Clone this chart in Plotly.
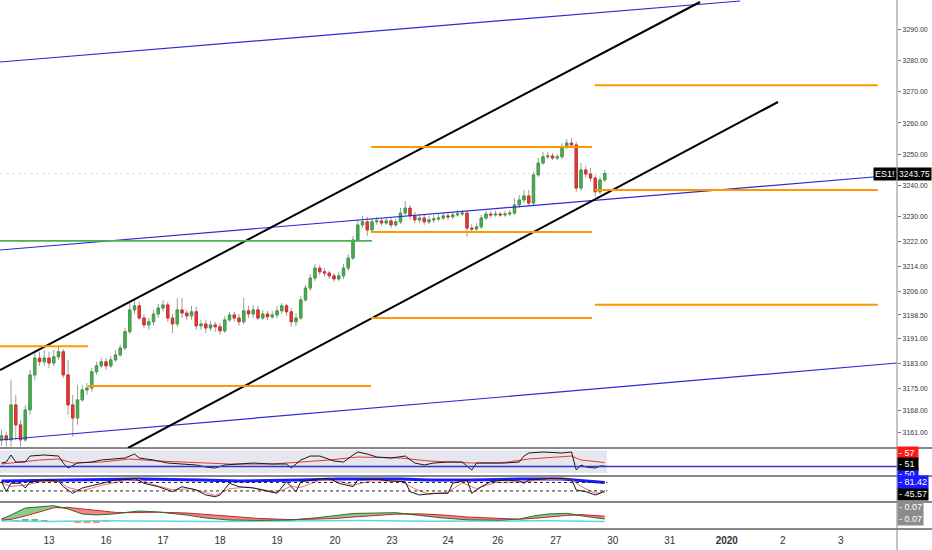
import plotly.graph_objects as go

# ---------------- data ----------------
first_open = 3158.5
closes = [3159.8, 3158.5, 3169.7, 3163.3, 3158.5, 3168.1, 3179.3, 3184.7, 3183.5, 3184.7,
          3183.1, 3185.1, 3186.7, 3179.3, 3169.7, 3165.5, 3171.3, 3174.5, 3175.1, 3180.3,
          3182.2, 3183.5, 3182.2, 3184.1, 3185.7, 3187.9, 3193.1, 3200.1, 3201.4, 3197.5,
          3195.3, 3196.3, 3198.8, 3200.7, 3201.7, 3197.5, 3195.6, 3200.1, 3199.1, 3198.2,
          3199.5, 3195.0, 3195.6, 3194.3, 3195.3, 3194.7, 3193.4, 3196.9, 3198.5, 3197.5,
          3196.3, 3199.8, 3198.8, 3200.1, 3197.5, 3198.8, 3197.9, 3198.5, 3199.8, 3201.4,
          3199.5, 3196.3, 3197.5, 3203.3, 3207.1, 3210.3, 3213.5, 3212.3, 3211.9, 3211.0,
          3210.0, 3211.0, 3213.5, 3216.7, 3222.5, 3227.3, 3228.3, 3225.7, 3228.3, 3228.6,
          3227.9, 3228.6, 3227.3, 3228.3, 3231.1, 3232.7, 3230.2, 3228.9, 3229.5, 3228.3,
          3228.9, 3229.2, 3229.5, 3230.2, 3229.9, 3230.5, 3230.8, 3231.1, 3226.3, 3226.0,
          3226.7, 3229.5, 3230.8, 3230.5, 3230.8, 3230.5, 3230.8, 3231.1, 3233.7, 3235.3,
          3236.6, 3234.3, 3243.3, 3247.1, 3249.1, 3249.4, 3248.7, 3249.1, 3252.3, 3253.5,
          3252.9, 3239.1, 3244.9, 3243.6, 3242.3, 3237.9, 3241.7, 3243.75]
highs = [3161.7, 3161.1, 3177.7, 3172.9, 3164.9, 3169.7, 3180.9, 3186.7, 3186.7, 3187.3,
         3186.7, 3187.3, 3188.3, 3187.6, 3184.1, 3172.9, 3176.1, 3176.1, 3176.7, 3181.5,
         3183.5, 3184.7, 3184.7, 3185.4, 3187.3, 3188.9, 3194.3, 3202.3, 3203.3, 3202.7,
         3198.8, 3197.5, 3200.1, 3202.0, 3203.3, 3202.7, 3198.8, 3203.9, 3203.9, 3200.1,
         3201.4, 3201.1, 3196.9, 3196.9, 3196.6, 3196.3, 3195.9, 3198.2, 3199.5, 3199.5,
         3198.8, 3203.9, 3201.4, 3201.7, 3201.4, 3200.1, 3199.8, 3199.8, 3201.4, 3202.3,
         3202.0, 3200.7, 3199.1, 3204.6, 3208.1, 3211.6, 3214.8, 3214.5, 3213.5, 3212.6,
         3211.9, 3212.3, 3214.8, 3218.0, 3223.8, 3228.9, 3230.2, 3229.9, 3229.5, 3229.9,
         3229.5, 3229.5, 3229.5, 3229.2, 3232.7, 3235.0, 3233.7, 3231.5, 3230.8, 3230.5,
         3230.2, 3230.5, 3230.8, 3231.5, 3231.1, 3231.5, 3232.1, 3232.1, 3231.8, 3227.6,
         3227.9, 3230.5, 3231.8, 3231.8, 3231.8, 3231.5, 3231.8, 3232.1, 3235.9, 3236.9,
         3238.5, 3238.5, 3244.3, 3248.7, 3250.7, 3250.7, 3250.3, 3250.0, 3253.5, 3254.8,
         3255.1, 3253.9, 3247.1, 3246.2, 3245.5, 3243.3, 3242.7, 3244.9]
lows = [3156.6, 3156.3, 3156.3, 3158.5, 3156.3, 3157.9, 3166.5, 3177.7, 3182.2, 3182.2,
        3181.5, 3182.2, 3184.1, 3178.3, 3166.5, 3159.5, 3163.3, 3170.7, 3172.9, 3173.9,
        3179.3, 3181.5, 3180.9, 3181.5, 3183.5, 3185.1, 3187.3, 3192.4, 3198.8, 3196.9,
        3194.3, 3193.7, 3195.0, 3197.5, 3199.5, 3196.3, 3192.7, 3194.7, 3197.5, 3196.9,
        3196.9, 3193.7, 3193.7, 3192.7, 3193.4, 3193.1, 3192.1, 3192.7, 3196.3, 3196.3,
        3195.0, 3195.6, 3197.5, 3197.5, 3196.9, 3196.9, 3196.9, 3197.2, 3197.5, 3198.8,
        3198.2, 3194.7, 3195.0, 3196.9, 3202.7, 3206.2, 3209.4, 3211.3, 3210.7, 3210.0,
        3209.1, 3209.4, 3210.0, 3212.6, 3216.1, 3221.9, 3226.3, 3223.8, 3224.7, 3227.3,
        3227.0, 3227.3, 3226.3, 3226.7, 3227.6, 3230.5, 3228.9, 3227.9, 3227.9, 3227.3,
        3227.6, 3227.9, 3228.6, 3228.9, 3228.9, 3229.2, 3229.9, 3230.2, 3223.5, 3224.7,
        3225.4, 3226.0, 3228.9, 3229.5, 3229.9, 3229.9, 3229.9, 3230.2, 3230.5, 3232.7,
        3234.3, 3233.4, 3233.7, 3242.7, 3246.5, 3248.4, 3248.1, 3248.1, 3248.4, 3251.6,
        3251.9, 3237.9, 3238.2, 3242.3, 3241.1, 3236.3, 3237.2, 3241.1]

date_tick_pos = [10, 22, 34, 46, 58, 70.2, 82.2, 94, 104.5, 116.7, 128.7, 140.7, 152.7, 164.5, 176.7]
date_tick_text = ["13", "16", "17", "18", "19", "20", "23", "24", "26", "27", "30", "31",
                  "<b>2020</b>", "2", "3"]
price_ticks = [3290, 3280, 3270, 3260, 3250, 3240, 3230, 3222, 3214, 3206, 3198.5,
               3191, 3183, 3175, 3168, 3161]

# drawn trend lines (bar index, price)
blue_top_x, blue_top_y = [-0.32, 155.5], [3279.45, 3298.98]
black_upper_x, black_upper_y = [-0.32, 147.05], [3180.86, 3298.66]
black_lower_x, black_lower_y = [26.63, 163.47], [3155.90, 3266.65]
blue_mid_x, blue_mid_y = [-0.32, 188.53], [3219.28, 3243.28]
blue_low_x, blue_low_y = [-0.32, 188.53], [3158.46, 3183.10]
green_level, green_x = 3222.2, [-0.32, 78.0]
orange_levels = [3188.5, 3175.75, 3252.25, 3225.0, 3197.5, 3272.0, 3238.5, 3201.75]
orange_starts = [-0.32, 18.2, 77.8, 77.8, 77.8, 124.9, 124.9, 124.9]
orange_ends = [18.2, 77.8, 124.3, 124.3, 124.3, 184.5, 184.5, 184.5]

# pane A (RSI)
rsi_x = [0, 1, 2, 3, 5, 6, 9, 12, 13, 14, 16, 19, 21, 24, 26, 28, 29, 32, 35, 38, 41, 43, 45, 47,
         50, 53, 57, 60, 61, 63, 65, 67, 70, 72, 74, 75, 77, 79, 82, 85, 87, 89, 91, 94, 97, 99,
         100, 103, 106, 109, 110, 111, 114, 118, 120, 121, 122, 123, 125, 126, 127]
rsi_v = [56.5, 58.3, 71.3, 58.3, 58.3, 69.4, 71.3, 69.4, 56.5, 47.2, 56.5, 58.3, 62.0, 63.9,
         65.7, 73.1, 65.7, 62.0, 56.5, 54.6, 52.8, 49.1, 47.2, 52.8, 54.6, 56.5, 54.6, 54.6,
         47.2, 62.0, 69.4, 69.4, 60.2, 58.3, 71.3, 76.9, 73.1, 67.6, 65.7, 69.4, 56.5, 52.8,
         56.5, 58.3, 58.3, 43.5, 56.5, 56.5, 56.5, 58.3, 69.4, 75.0, 76.9, 75.0, 76.9, 43.5,
         52.8, 49.1, 47.2, 50.9, 51.0]
rsi_ma_x = [0, 4, 8, 12, 15, 21, 27, 33, 42, 48, 57, 63, 69, 75, 84, 90, 99, 105, 111, 120, 122, 126, 127]
rsi_ma_v = [54.6, 58.3, 62.0, 63.9, 56.5, 58.3, 63.9, 60.2, 56.5, 54.6, 54.6, 58.3, 62.0, 67.6,
            65.7, 60.2, 56.5, 56.5, 63.9, 69.4, 62.0, 58.3, 57.0]
rsi_band = [38, 80]
rsi_mid = 50

# pane B (stochastic)
stoch_k_x = [0, 1, 2, 4, 5, 6, 9, 12, 13, 15, 17, 21, 24, 27, 28, 30, 33, 36, 38, 41, 43, 45, 46,
             48, 50, 53, 55, 58, 60, 62, 63, 66, 69, 71, 74, 75, 79, 82, 85, 86, 88, 91, 94, 95,
             98, 99, 101, 103, 106, 109, 110, 111, 116, 120, 121, 123, 125, 126, 127]
stoch_k_v = [85.3, 41.7, 78.4, 78.4, 57.8, 85.3, 92.8, 88.4, 63.5, 34.7, 57.8, 78.4, 92.8, 95.8,
             100, 78.4, 63.5, 41.7, 63.5, 49.1, 27.3, 19.9, 27.3, 78.4, 63.5, 57.8, 49.1, 34.7,
             85.3, 41.7, 85.3, 95.8, 100, 78.4, 63.5, 92.8, 95.8, 88.4, 85.3, 41.7, 27.3, 34.7,
             34.7, 78.4, 92.8, 34.7, 63.5, 85.3, 92.8, 88.4, 78.4, 92.8, 100, 95.8, 49.1, 41.7,
             27.3, 34.7, 45.57]
stoch_d_x = [0, 2, 5, 8, 12, 14, 17, 21, 26, 29, 32, 36, 40, 45, 48, 52, 58, 61, 63, 67, 71, 74,
             78, 84, 87, 90, 94, 97, 100, 104, 110, 116, 120, 122, 125, 127]
stoch_d_v = [80, 65, 70, 85, 88, 60, 45, 70, 90, 95, 72, 50, 55, 25, 55, 62, 40, 65, 60, 92, 88,
             70, 90, 87, 55, 30, 40, 80, 55, 82, 85, 96, 95, 65, 35, 38]
stoch_blue_x = [0, 12, 21, 29, 42, 50, 63, 71, 84, 90, 99, 109, 118, 124, 127]
stoch_blue_v = [88.4, 92.8, 95.0, 97.1, 92.8, 88.4, 92.8, 97.1, 97.1, 92.8, 92.8, 97.1, 97.1, 88.4, 81.42]
stoch_levels = [82, 45]

# pane C (oscillator ribbon)
macd_x = [0, 2, 5, 8, 11, 14, 17, 20, 24, 27, 29, 33, 39, 43, 48, 54, 61, 66, 70, 74, 79, 83,
          88, 93, 98, 105, 109, 112, 115, 119, 122, 125, 127]
macd_fast = [0.010, 0.030, 0.065, 0.070, 0.0765, 0.060, 0.035, 0.030, 0.036, 0.045, 0.050,
             0.045, 0.030, 0.015, 0.005, 0.003, 0.005, 0.015, 0.025, 0.0375, 0.040, 0.0415,
             0.028, 0.015, 0.006, 0.004, 0.010, 0.025, 0.035, 0.0385, 0.026, 0.015, 0.010]
macd_slow = [0.005, 0.008, 0.025, 0.045, 0.066, 0.068, 0.060, 0.050, 0.043, 0.042, 0.043,
             0.044, 0.040, 0.033, 0.022, 0.013, 0.007, 0.008, 0.012, 0.020, 0.028, 0.034,
             0.036, 0.030, 0.020, 0.011, 0.009, 0.013, 0.020, 0.028, 0.032, 0.028, 0.024]
cyan_x = [0, 10, 20, 30, 45, 60, 75, 90, 105, 115, 127]
cyan_v = [0.000, -0.002, 0.001, -0.001, -0.002, 0.000, 0.002, -0.001, 0.000, 0.001, -0.002]
hist_x = [3, 5, 7, 9, 14, 16, 18, 20, 22, 67, 70, 73, 89, 92, 95, 110, 113, 122, 124, 126]
hist_v = [0.004, 0.007, 0.008, 0.005, -0.005, -0.008, -0.009, -0.006, -0.003, 0.003, 0.004,
          0.003, -0.003, -0.004, -0.003, 0.003, 0.004, -0.003, -0.005, -0.004]

# ---------------- figure ----------------
W, H = 932, 550
ML, MR, MT, MB = 0, 35, 0, 21
PH = H - MT - MB


def py(px):
    return (PH - (px - MT)) / PH


bars = list(range(len(closes)))
opens = [first_open] + closes[:-1]
body_hi = [max(o, c) for o, c in zip(opens, closes)]
body_lo = [min(o, c) for o, c in zip(opens, closes)]
x_range = [-0.32, 188.53]
last_bar = bars[-1] + 0.5

fig = go.Figure()

# candles: wicks then bodies
fig.add_trace(go.Candlestick(
    x=bars, open=opens, high=highs, low=lows, close=closes,
    increasing=dict(line=dict(color="#9e9e9e", width=1), fillcolor="#9e9e9e"),
    decreasing=dict(line=dict(color="#9e9e9e", width=1), fillcolor="#9e9e9e"),
    whiskerwidth=0, hoverinfo="skip", showlegend=False))
fig.add_trace(go.Candlestick(
    x=bars, open=opens, high=body_hi, low=body_lo, close=closes,
    increasing=dict(line=dict(color="#3e9e45", width=1), fillcolor="#4caf50"),
    decreasing=dict(line=dict(color="#d32f2f", width=1), fillcolor="#e53935"),
    whiskerwidth=0, hoverinfo="skip", showlegend=False))


def line(x, y, color, width, yaxis="y", dash=None):
    fig.add_trace(go.Scatter(x=x, y=y, mode="lines", yaxis=yaxis, hoverinfo="skip",
                             line=dict(color=color, width=width, dash=dash), showlegend=False))


line(blue_top_x, blue_top_y, "#2b2bd9", 1.2)
line(blue_mid_x, blue_mid_y, "#2b2bd9", 1.2)
line(blue_low_x, blue_low_y, "#2b2bd9", 1.2)
line(black_upper_x, black_upper_y, "#000000", 2)
line(black_lower_x, black_lower_y, "#000000", 2)
line(green_x, [green_level, green_level], "#4caf50", 1.6)
for lv, s, e in zip(orange_levels, orange_starts, orange_ends):
    line([s, e], [lv, lv], "#ff9800", 2)

# pane A
line(rsi_ma_x, rsi_ma_v, "#e53935", 1, "y2")
line(rsi_x, rsi_v, "#1a1a1a", 1, "y2")

# pane B
line(stoch_blue_x, stoch_blue_v, "#1a1aff", 3, "y3")
line(stoch_d_x, stoch_d_v, "#e57373", 1, "y3")
line(stoch_k_x, stoch_k_v, "#1a1a1a", 1, "y3")

# pane C
up = [max(a, b) for a, b in zip(macd_fast, macd_slow)]
dn = [min(a, b) for a, b in zip(macd_fast, macd_slow)]
fig.add_trace(go.Scatter(x=macd_x, y=macd_slow, yaxis="y4", mode="lines", line=dict(width=0),
                         hoverinfo="skip", showlegend=False))
fig.add_trace(go.Scatter(x=macd_x, y=up, yaxis="y4", mode="lines", line=dict(width=0),
                         fill="tonexty", fillcolor="rgba(76,175,80,0.65)", hoverinfo="skip",
                         showlegend=False))
fig.add_trace(go.Scatter(x=macd_x, y=macd_slow, yaxis="y4", mode="lines", line=dict(width=0),
                         hoverinfo="skip", showlegend=False))
fig.add_trace(go.Scatter(x=macd_x, y=dn, yaxis="y4", mode="lines", line=dict(width=0),
                         fill="tonexty", fillcolor="rgba(229,57,53,0.6)", hoverinfo="skip",
                         showlegend=False))
fig.add_trace(go.Bar(x=hist_x, y=hist_v, yaxis="y4", hoverinfo="skip", showlegend=False,
                     marker=dict(color=["#66bb6a" if v > 0 else "#ff8a50" for v in hist_v],
                                 line=dict(width=0))))
line(cyan_x, cyan_v, "#5ad8e6", 1.5, "y4")
line(macd_x, macd_slow, "#c62828", 1, "y4")
line(macd_x, macd_fast, "#2e6b30", 1, "y4")

shapes = []
# RSI band and mid line
shapes.append(dict(type="rect", xref="x", yref="y2", x0=x_range[0], x1=last_bar,
                   y0=rsi_band[0], y1=rsi_band[1], fillcolor="#e6e6ee", line=dict(width=0),
                   layer="below"))
shapes.append(dict(type="line", xref="paper", yref="y2", x0=0, x1=1, y0=rsi_mid, y1=rsi_mid,
                   line=dict(color="#3333cc", width=1.5)))
for lv in stoch_levels:
    shapes.append(dict(type="line", xref="x", yref="y3", x0=x_range[0], x1=last_bar, y0=lv, y1=lv,
                       line=dict(color="#222222", width=1, dash="dot")))
# last price line
shapes.append(dict(type="line", xref="paper", yref="y", x0=0, x1=1, y0=closes[-1], y1=closes[-1],
                   line=dict(color="#e2e2e2", width=1, dash="dot"), layer="below"))
# pane separators
for px in [448, 476, 502, 529]:
    shapes.append(dict(type="line", xref="paper", yref="paper", x0=0, x1=W / (W - MR),
                       y0=py(px), y1=py(px), line=dict(color="#111111", width=1)))
# right axis line
shapes.append(dict(type="line", xref="paper", yref="paper", x0=1, x1=1, y0=py(H), y1=1,
                   line=dict(color="#8a8a8a", width=1)))

lab_font = "Liberation Sans Narrow, Arial Narrow, Liberation Sans, sans-serif"
ann = []


def label(text, y, yref, bg, xanchor="left", fc="white", size=9):
    ann.append(dict(text=text, x=1, xref="paper", y=y, yref=yref, xanchor=xanchor,
                    yanchor="middle", showarrow=False, bgcolor=bg, borderpad=1,
                    font=dict(family=lab_font, size=size, color=fc)))


label("ES1!", closes[-1], "y", "#000000", xanchor="right")
label(f"{closes[-1]:.2f}", closes[-1], "y", "#000000", size=8.5)
label("- 50 ", py(474), "paper", "#1a1aff")
label("- 57 ", py(453), "paper", "#ff1a1a")
label("- 51 ", py(464), "paper", "#000000")
label("- 45.57", py(494), "paper", "#000000")
label("- 81.42", py(482), "paper", "#1a1aff")
label("- 0.07", py(507), "paper", "#8c8c8c")
label("- 0.07", py(519), "paper", "#8c8c8c")

fig.update_layout(
    width=W, height=H, margin=dict(l=ML, r=MR, t=MT, b=MB, autoexpand=False),
    paper_bgcolor="white", plot_bgcolor="white", showlegend=False,
    shapes=shapes, annotations=ann, bargap=0.3,
    xaxis=dict(range=x_range, anchor="y4", rangeslider=dict(visible=False), showgrid=False,
               zeroline=False, showline=False, tickmode="array", tickvals=date_tick_pos,
               ticktext=date_tick_text, ticks="", ticklen=0, ticklabelstandoff=4,
               tickfont=dict(family="Liberation Sans, Arial, sans-serif", size=10, color="#333333")),
    yaxis=dict(domain=[py(448), 1], range=[3155.9, 3299.3], side="right", anchor="x",
               showgrid=False, zeroline=False, showline=False, tickmode="array",
               tickvals=price_ticks, ticktext=[f"{v:.2f}" for v in price_ticks],
               ticks="outside", ticklen=3, tickcolor="#777777",
               tickfont=dict(family=lab_font, size=8, color="#333333")),
    yaxis2=dict(domain=[py(476), py(448)], range=[32.4, 84.3], anchor="x", side="right",
                showgrid=False, zeroline=False, showticklabels=False),
    yaxis3=dict(domain=[py(502), py(476)], range=[-3.3, 110.2], anchor="x", side="right",
                showgrid=False, zeroline=False, showticklabels=False),
    yaxis4=dict(domain=[0, py(502)], range=[-0.04, 0.095], anchor="x", side="right",
                showgrid=False, zeroline=False, showticklabels=False),
)

post = ("document.body.style.margin='0px';"
        "document.querySelectorAll('.yaxislayer-above .ytick text').forEach(function(t){"
        "t.setAttribute('textLength','25');t.setAttribute('lengthAdjust','spacingAndGlyphs');});")
fig.write_html("out.html", post_script=post, config={"displayModeBar": False})
